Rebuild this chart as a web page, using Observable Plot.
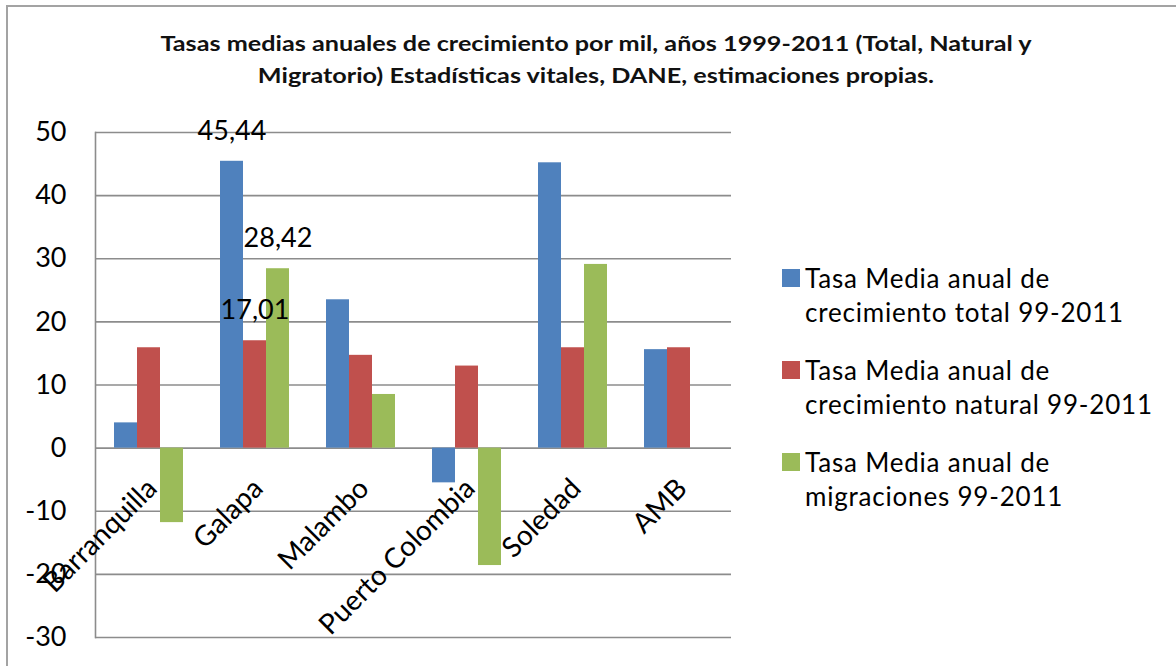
<!DOCTYPE html>
<html>
<head>
<meta charset="utf-8">
<script src="https://cdn.jsdelivr.net/npm/d3@7"></script>
<script src="https://cdn.jsdelivr.net/npm/@observablehq/plot@0.6"></script>
<style>
  body { margin: 0; background: #fff; }
  #wrap { position: relative; width: 1176px; height: 666px; overflow: hidden; background: #fff; }
  #border { position: absolute; left: 6px; top: 5px; width: 1180px; height: 680px; border-left: 2px solid #a3a3a3; border-top: 2px solid #a3a3a3; }
  #title { position: absolute; left: 16px; width: 1160px; top: 27px; text-align: center; font-family: Lato, "Open Sans", sans-serif; font-weight: bold; font-size: 20px; line-height: 32px; color: #111; transform: scaleX(1.26); transform-origin: 580px 0; }
  #plot { position: absolute; left: 0; top: 110px; }
  #legend { position: absolute; left: 782px; top: 261px; font-family: Lato, "Open Sans", sans-serif; font-size: 26px; letter-spacing: 0.8px; color: #000; }
  .item { display: flex; align-items: flex-start; margin-bottom: 24px; }
  .sw { width: 18px; height: 18px; margin-top: 8px; margin-right: 5px; flex: none; }
  .lab { white-space: pre-line; line-height: 34px; }
</style>
</head>
<body>
<div id="wrap">
  <div id="border"></div>
  <div id="title"></div>
  <div id="plot"></div>
  <div id="legend"></div>
</div>
<script>
const titleLines = [
  "Tasas medias anuales de crecimiento por mil, años 1999-2011  (Total, Natural y",
  "Migratorio) Estadísticas vitales, DANE, estimaciones propias."
];
const categories = ["Barranquilla", "Galapa", "Malambo", "Puerto Colombia", "Soledad", "AMB"];
const seriesNames = [
  "Tasa Media anual de crecimiento total 99-2011",
  "Tasa Media anual de crecimiento natural 99-2011",
  "Tasa Media anual de migraciones 99-2011"
];
const seriesColors = ["#4F81BD", "#C0504D", "#9BBB59"];
const totalValues = [4.0, 45.44, 23.5, -5.5, 45.2, 15.6];
const naturalValues = [15.9, 17.01, 14.7, 13.0, 15.9, 15.9];
const migrationValues = [-11.8, 28.42, 8.5, -18.6, 29.1, 0];
const yTicks = [-30, -20, -10, 0, 10, 20, 30, 40, 50];
const labeledCategory = "Galapa";

const seriesValues = [totalValues, naturalValues, migrationValues];
const data = [];
categories.forEach((c, i) => {
  seriesNames.forEach((s, j) => {
    data.push({category: c, series: s, value: seriesValues[j][i]});
  });
});
const labelData = data.filter(d => d.category === labeledCategory);

document.getElementById("title").innerHTML = titleLines.join("<br>");

const chart = Plot.plot({
  width: 733,
  height: 556,
  marginLeft: 93,
  marginRight: 0,
  marginTop: 22,
  marginBottom: 29,
  style: {background: "transparent", overflow: "visible", fontFamily: "Lato, 'Open Sans', sans-serif", color: "#000"},
  fx: {domain: categories, padding: 0, axis: null, label: null},
  x: {domain: seriesNames, paddingInner: 0, paddingOuter: 0.786, axis: null},
  y: {domain: [-30, 50], axis: null},
  color: {domain: seriesNames, range: seriesColors},
  marks: [
    Plot.ruleY(yTicks, {stroke: "#8c8c8c", strokeWidth: 1.6}),
    Plot.frame({anchor: "left", facetAnchor: "left", stroke: "#8c8c8c", strokeWidth: 1.6}),
    Plot.axisY({ticks: yTicks, tickSize: 0, tickPadding: 29, fontSize: 27, label: null, tickFormat: d => String(d)}),
    Plot.barY(data, {fx: "category", x: "series", y: "value", fill: "series"}),
    Plot.text(labelData, {fx: "category", x: "series", y: "value", text: d => d.value.toFixed(2).replace(".", ","), dy: -30, fontSize: 27, fill: "#000"}),
    Plot.text(categories, {fx: d => d, y: () => 0, text: d => d, rotate: -45, textAnchor: "end", lineAnchor: "top", dx: -4, dy: 28, fontSize: 28, fill: "#000"})
  ]
});
document.getElementById("plot").appendChild(chart);

const legend = document.getElementById("legend");
seriesNames.forEach((s, j) => {
  const item = document.createElement("div");
  item.className = "item";
  const sw = document.createElement("div");
  sw.className = "sw";
  sw.style.background = seriesColors[j];
  const lab = document.createElement("div");
  lab.className = "lab";
  lab.textContent = s.replace("anual de ", "anual de\n");
  item.appendChild(sw);
  item.appendChild(lab);
  legend.appendChild(item);
});
</script>
</body>
</html>
